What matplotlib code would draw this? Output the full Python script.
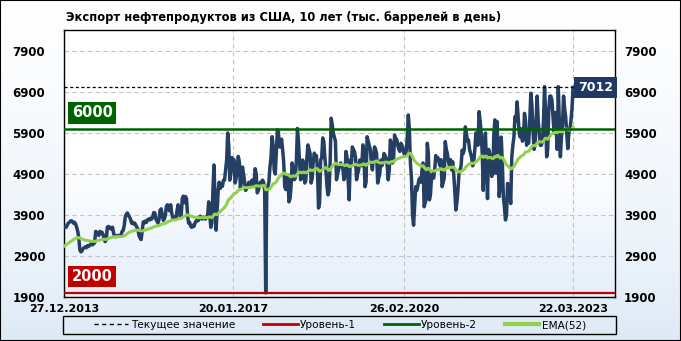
import matplotlib
matplotlib.use('Agg')
import matplotlib.pyplot as plt
import numpy as np
import pandas as pd
from matplotlib.colors import LinearSegmentedColormap
from matplotlib.lines import Line2D

title = 'Экспорт нефтепродуктов из США, 10 лет (тыс. баррелей в день)'
start_date = '2013-12-27'
end_date = '2023-12-27'

# weekly exports, thousand barrels per day
export_kbd = [
    3600, 3620, 3600, 3650, 3700, 3720, 3750, 3760, 3740, 3700,
    3720, 3680, 3600, 3500, 3350, 3050, 3000, 3020, 3080, 3100,
    3120, 3100, 3150, 3130, 3150, 3180, 3200, 3170, 3200, 3220,
    3500, 3480, 3450, 3400, 3500, 3450, 3480, 3420, 3300, 3250,
    3300, 3600, 3620, 3580, 3600, 3550, 3600, 3450, 3380, 3370,
    3400, 3380, 3400, 3380, 3420, 3500, 3520, 3640, 3850, 3920,
    3950, 3900, 3850, 3800, 3700, 3720, 3680, 3700, 3650, 3600,
    3550, 3400, 3340, 3300, 3500, 3730, 3700, 3750, 3720, 3780,
    3800, 3780, 3820, 3800, 3850, 3960, 3950, 3800, 3750, 3700,
    3800, 4020, 4050, 3900, 3770, 3800, 3900, 4120, 4150, 4100,
    4000, 4150, 3950, 3830, 3830, 3850, 3800, 4000, 4150, 4050,
    3870, 3900, 4300, 4360, 4200, 4350, 4300, 3900, 3700, 3720,
    3620, 3600, 3650, 3620, 3700, 3750, 3780, 3760, 3800, 3870,
    3820, 3800, 3850, 3830, 3800, 3850, 3900, 4220, 3900, 3600,
    3700, 4500, 5120, 4300, 3530, 4000, 4500, 4700, 4550, 4650,
    4600, 4750, 4750, 5000, 5240, 5900, 5600, 4750, 4900, 5300,
    5100, 5250, 4680, 4800, 5000, 5330, 5200, 4550, 4700, 5070,
    4900, 4700, 4500, 4550, 4600, 4700, 4600, 4650, 4750, 4600,
    4700, 5030, 4900, 4440, 4500, 4600, 4700, 4650, 4750, 4700,
    4500, 2000, 4550, 4600, 4700, 5070, 5300, 5810, 5600, 5000,
    4900, 5400, 5980, 5930, 5560, 5560, 5750, 5500, 5200, 4590,
    4520, 4700, 4880, 4220, 4300, 4600, 5170, 5000, 4760, 4800,
    5200, 6010, 5700, 5200, 4760, 4800, 5240, 5000, 4680, 4750,
    5300, 5610, 5500, 5400, 4680, 4800, 5200, 5410, 5300, 5350,
    5000, 4070, 4200, 5240, 5300, 5780, 5700, 5300, 5000, 4590,
    4390, 4500, 5200, 6260, 6100, 5900, 5800, 5700, 4760, 4900,
    5000, 5100, 5170, 5100, 5050, 4760, 4850, 5450, 5300, 4800,
    4270, 5240, 5100, 5560, 5500, 5450, 5300, 4760, 4900, 5000,
    5240, 5200, 5100, 5610, 5400, 4590, 4700, 5810, 5700, 5600,
    5500, 5170, 5000, 5300, 5560, 5500, 5400, 4680, 4800, 4900,
    5240, 5100, 5200, 5400, 5350, 5300, 5100, 4760, 5000, 5730,
    5600, 5170, 5200, 5850, 5700, 5750, 5600, 5500, 5450, 5650,
    5600, 5500, 5400, 5350, 5450, 5800, 6340, 6000, 5170, 4800,
    3900, 3650, 4100, 4590, 4500, 4600, 4760, 4800, 4700, 5000,
    5170, 4100, 4200, 4300, 5650, 5400, 4270, 4400, 4840, 4900,
    4800, 5000, 5350, 5250, 5300, 5200, 5100, 5250, 4590, 4700,
    4800, 5690, 5500, 5400, 5200, 5100, 5250, 5000, 5200, 4900,
    4500, 4020, 4200, 4500, 4920, 5000, 5100, 5480, 5400, 5500,
    6050, 5900, 5700, 5730, 5500, 5400, 5300, 5100, 5200, 5500,
    5900, 5700, 5600, 6420, 6200, 5900, 5400, 4500, 5500, 5900,
    5200, 4300, 5500, 5400, 5300, 4840, 4900, 5900, 6220, 4920,
    6180, 5500, 4350, 4600, 5800, 5200, 4350, 4100, 3780, 3900,
    4670, 4500, 4400, 4180, 5320, 5600, 5800, 6300, 6200, 6660,
    6300, 5900, 5800, 6000, 5700, 5750, 6380, 6200, 5600, 5700,
    5650, 6200, 6870, 6600, 6000, 5500, 5600, 6200, 6800, 6200,
    5900, 5600, 5600, 5700, 6200, 7030, 6400, 5320, 5500, 6450,
    6800, 6800, 6700, 6300, 5900, 6400, 6000, 5500, 7030, 6200,
    5320, 5800, 6100, 6800, 6500, 6300, 5900, 5520, 5900, 6000,
    6200, 6500, 7012,
]
ema_seed = 3120   # EMA level at the left edge of the chart
level_1 = 2000
level_2 = 6000

y_ticks = [1900, 2900, 3900, 4900, 5900, 6900, 7900]
tick_dates = ['2013-12-27', '2017-01-20', '2020-02-26', '2023-03-22']
tick_labels = ['27.12.2013', '20.01.2017', '26.02.2020', '22.03.2023']
legend_labels = ['Текущее значение', 'Уровень-1', 'Уровень-2', 'EMA(52)']

navy = '#243f63'
ema_green = '#92d050'
dark_green = '#006400'
dark_red = '#c00000'

dates = pd.date_range(start_date, periods=len(export_kbd), freq='7D')
series = pd.Series(export_kbd, index=dates)
ema = pd.Series([ema_seed] + export_kbd).ewm(span=52, adjust=False).mean().iloc[1:]
ema.index = dates
current = export_kbd[-1]

W, H = 681, 341
fig = plt.figure(figsize=(W / 100, H / 100), dpi=100)

# figure background gradient
bg = fig.add_axes([0, 0, 1, 1], zorder=-10)
fig_cmap = LinearSegmentedColormap.from_list('figbg', ['#dbe8f6', '#ffffff'])
bg.imshow(np.linspace(0, 1, 256).reshape(-1, 1) ** 0.6, aspect='auto', cmap=fig_cmap,
          extent=[0, 1, 0, 1], origin='lower')
bg.set_axis_off()

pos = [64 / W, 1 - 297 / H, 551 / W, 267 / H]
grad = fig.add_axes(pos, zorder=-5)
ax_cmap = LinearSegmentedColormap.from_list('axbg', ['#e4eefa', '#ffffff', '#ffffff'])
grad.imshow(np.linspace(0, 1, 256).reshape(-1, 1), aspect='auto', cmap=ax_cmap,
            extent=[0, 1, 0, 1], origin='lower')
grad.set_axis_off()

ax = fig.add_axes(pos)
ax.set_facecolor('none')

ax.plot(series.index, series.values, color=navy, lw=2.5, zorder=3, solid_joinstyle='round')
ax.plot(ema.index, ema.values, color=ema_green, lw=2.2, zorder=4)
ax.axhline(level_1, color=dark_red, lw=1.6, zorder=5)
ax.axhline(level_2, color=dark_green, lw=1.8, zorder=5)
ax.axhline(current, color='black', lw=0.9, ls=(0, (2.5, 2)), zorder=5)

ax.set_xlim(pd.Timestamp(start_date), pd.Timestamp(end_date))
ax.set_ylim(1900, 8412)
ax.set_yticks(y_ticks)
ax.set_yticklabels([str(t) for t in y_ticks], fontsize=8.5, fontweight='bold')
ax.set_xticks(pd.to_datetime(tick_dates))
ax.set_xticklabels(tick_labels, fontsize=8, fontweight='bold')
ax.tick_params(axis='y', length=0, pad=13.5)
ax.tick_params(axis='x', length=0, pad=5)
ax.grid(True, color='#c4c4c4', ls=(0, (4, 3)), lw=0.8, zorder=1)
for sp in ax.spines.values():
    sp.set_color('black')
    sp.set_linewidth(1)

right = ax.secondary_yaxis('right')
right.set_yticks(y_ticks)
right.set_yticklabels([str(t) for t in y_ticks], fontsize=8.5, fontweight='bold')
right.tick_params(length=0, pad=6.5)
right.spines['right'].set_visible(False)

# level tags and current value tag
ax.annotate(str(level_2), xy=(0.051, level_2), xycoords=('axes fraction', 'data'),
            xytext=(0, 11.5), textcoords='offset points', ha='center', va='center',
            color='white', fontsize=10.5, fontweight='bold', zorder=6,
            bbox=dict(boxstyle='square,pad=0.22', fc=dark_green, ec='none'))
ax.annotate(str(level_1), xy=(0.051, level_1), xycoords=('axes fraction', 'data'),
            xytext=(0, 12), textcoords='offset points', ha='center', va='center',
            color='white', fontsize=10.5, fontweight='bold', zorder=6,
            bbox=dict(boxstyle='square,pad=0.22', fc=dark_red, ec='none'))
ax.annotate(str(current), xy=(dates[-1], current), xytext=(3.5, 0),
            textcoords='offset points', ha='left', va='center',
            color='white', fontsize=9, fontweight='bold', zorder=7,
            bbox=dict(boxstyle='square,pad=0.3', fc='#1f3864', ec='none'))

fig.text(66 / W, 1 - 18 / H, title, fontsize=8.3, fontweight='bold', va='center', ha='left')

handles = [
    Line2D([], [], color='black', lw=1, ls=(0, (3, 2.5))),
    Line2D([], [], color=dark_red, lw=2),
    Line2D([], [], color=dark_green, lw=2),
    Line2D([], [], color=ema_green, lw=3),
]
fig.legend(handles, legend_labels, loc='center', ncol=4,
           bbox_to_anchor=(340 / W, 1 - 325 / H),
           fontsize=7.6, handlelength=3.3, handletextpad=0.25, columnspacing=2.6,
           borderaxespad=0, borderpad=0, frameon=False)
fig.patches.append(plt.Rectangle((63 / W, 1 - 334 / H), 553 / W, 18 / H,
                                 transform=fig.transFigure, fill=False,
                                 ec='black', lw=1, zorder=20))

fig.patches.append(plt.Rectangle((0, 0), 1, 1, transform=fig.transFigure, fill=False,
                                 ec='black', lw=1.5, zorder=20))

fig.savefig('out.png', dpi=100)
